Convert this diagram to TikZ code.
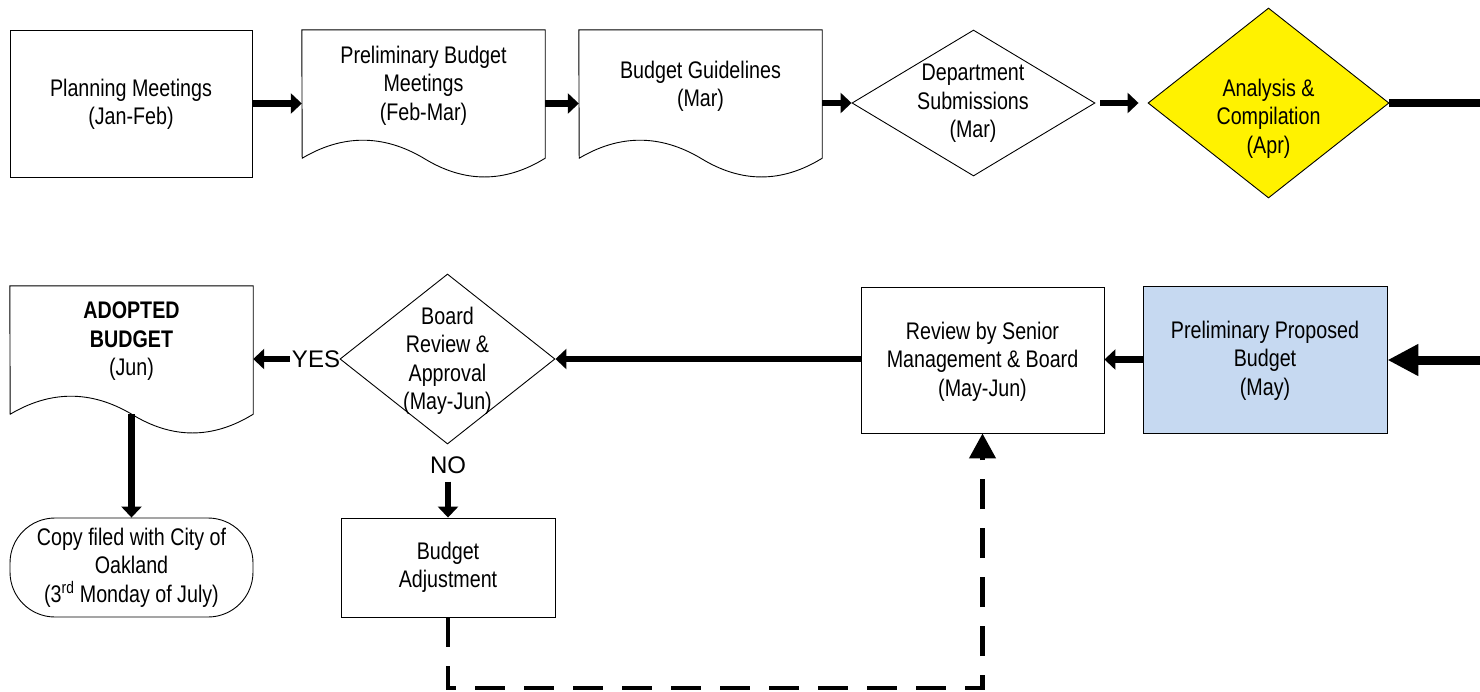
\documentclass[tikz,border=0pt]{standalone}
\usepackage{fontspec}
\setmainfont[FakeStretch=0.82]{Liberation Sans}
\newfontfamily\widefont{Liberation Sans}
\usetikzlibrary{arrows.meta,shapes.geometric}
\definecolor{paleblue}{HTML}{C6D9F1}
\newcommand{\docoutline}[2][white]{%
  \draw[line width=0.9pt, fill=#1] (#2.north west) -- (#2.north east) -- (#2.south east)
    .. controls +(-40.5pt,-25pt) and +(40.5pt,-25pt) .. ++(-121.5pt,0pt)
    .. controls +(-40.5pt,24pt) and +(40.5pt,24pt) .. ++(-121.5pt,0pt) -- cycle;}
\tikzset{
  box/.style={draw=black, line width=0.9pt, inner sep=0pt, rectangle},
  blank/.style={inner sep=0pt, rectangle},
  dia/.style={draw=black, line width=0.9pt, diamond, inner sep=0pt},
  txt/.style={align=center, inner sep=0pt, font=\fontsize{24}{28.5}\selectfont},
  flow/.style={line width=6.5pt, -{Triangle[length=11pt,width=20pt]}},
  bigflow/.style={line width=9pt, -{Triangle[length=31pt,width=30pt]}},
  dashflow/.style={line width=4.5pt, dash pattern=on 30pt off 19pt, -{Triangle[length=25pt,width=26pt]}},
}
\begin{document}
\begin{tikzpicture}[x=1pt,y=-1pt]
\useasboundingbox (0,0) rectangle (1480,691);

% ---- top row ----
\node[box, minimum width=242pt, minimum height=147pt] (plan) at (131,103.5) {};
\node[blank, minimum width=243pt, minimum height=128pt] (pbm) at (423.5,94) {};
\docoutline{pbm}
\node[blank, minimum width=243pt, minimum height=128pt] (gl) at (700.5,94) {};
\docoutline{gl}
\node[dia, minimum width=243pt, minimum height=146pt] (dept) at (973.5,103) {};
\node[dia, fill=yellow, minimum width=241pt, minimum height=190pt] (anal) at (1268.5,103) {};

\node[txt] (tplan) at (131,104.5) {Planning Meetings\\(Jan-Feb)};
\node[txt] (tpbm) at (423.5,85.5) {Preliminary Budget\\Meetings\\(Feb-Mar)};
\node[txt] (tgl) at (700.5,86.5) {Budget Guidelines\\(Mar)};
\node[txt] (tdept) at (973,103.5) {Department\\Submissions\\(Mar)};
\node[txt] (tanal) at (1268.5,118.5) {Analysis \&\\Compilation\\(Apr)};

\coordinate (r1) at (1480,103);
\coordinate (r2) at (1480,360);

% ---- bottom row ----
\node[blank, minimum width=243pt, minimum height=128pt] (adopt) at (131.5,350) {};
\docoutline{adopt}
\node[dia, minimum width=215pt, minimum height=170pt] (board) at (447.5,359) {};
\node[box, minimum width=243pt, minimum height=146pt] (rsm) at (982.5,360) {};
\node[box, fill=paleblue, minimum width=244pt, minimum height=147pt] (ppb) at (1265,359.5) {};
\node[box, rounded corners=45pt, minimum width=243pt, minimum height=99pt] (copy) at (131.5,567.5) {};
\node[box, minimum width=214pt, minimum height=99pt] (badj) at (448,567.5) {};

\node[txt] (tadopt) at (131.5,341.5) {\textbf{ADOPTED}\\\textbf{BUDGET}\\(Jun)};
\node[txt] (tboard) at (447.5,361) {Board\\Review \&\\Approval\\(May-Jun)};
\node[txt] (trsm) at (982.5,361.5) {Review by Senior\\Management \& Board\\(May-Jun)};
\node[txt] (tppb) at (1265,360.5) {Preliminary Proposed\\Budget\\(May)};
\node[txt] (tcopy) at (131.5,567.5) {Copy filed with City of\\Oakland\\(3\textsuperscript{rd} Monday of July)};
\node[txt] (tbadj) at (448,567.5) {Budget\\Adjustment};
\node[inner sep=0pt, font=\widefont\fontsize{24}{28}\selectfont] (yes) at (316,359) {YES};
\node[inner sep=0pt, font=\widefont\fontsize{24}{28}\selectfont] (no) at (448,465) {NO};

% ---- connectors ----
\draw[flow] (plan.east) -- (plan.east -| pbm.west);
\draw[flow] (plan.east -| pbm.east) -- (plan.east -| gl.west);
\draw[flow] (dept.west -| gl.east) -- (dept.west);
\draw[flow, shorten <=5pt, shorten >=9pt] (dept.east) -- (anal.west);
\draw[line width=8pt] (anal.east) -- (r1);
\draw[bigflow] (r2) -- (r2 -| ppb.east);
\draw[flow] (ppb.west) -- (ppb.west -| rsm.east);
\draw[flow] (board.east -| rsm.west) -- (board.east);
\draw[flow, shorten <=2pt] (yes.west) -- (yes.west -| adopt.east);
\draw[flow] (adopt.south) -- (copy.north);
\draw[flow, shorten <=8pt] (no.south) -- (badj.north);
\draw[dashflow] (badj.south) -- (badj.south |- 0,688) -| (rsm.south);
\end{tikzpicture}
\end{document}
